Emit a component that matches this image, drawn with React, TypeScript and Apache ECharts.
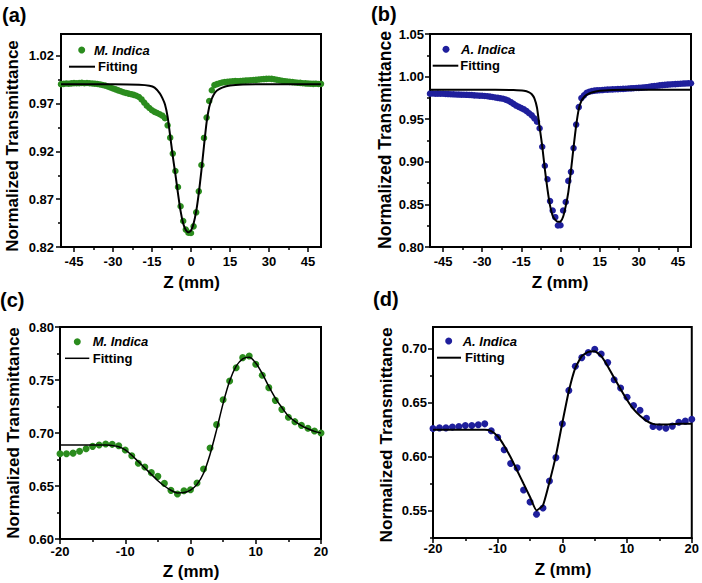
import React, { useEffect, useRef } from "react";
import * as echarts from "echarts";

// ---------- open-aperture scan positions (mm) ----------
const zOpen = [
  -50, -49, -48, -47, -46, -45, -44, -43, -42, -41, -40, -39, -38, -37, -36, -35, -34, -33, -32, -31,
  -30, -29, -28, -27, -26, -25, -24, -23, -22, -21, -20, -19, -18, -17, -16, -15, -14, -13, -12, -11,
  -10, -9, -8, -7, -6, -5, -4, -3, -2, -1, 0, 1, 2, 3, 4, 5, 6, 7, 8, 9,
  10, 11, 12, 13, 14, 15, 16, 17, 18, 19, 20, 21, 22, 23, 24, 25, 26, 27, 28, 29,
  30, 31, 32, 33, 34, 35, 36, 37, 38, 39, 40, 41, 42, 43, 44, 45, 46, 47, 48, 49, 50,
];

// (a) M. Indica open aperture
const mIndicaOpen = [
  0.9905, 0.9908, 0.9912, 0.991, 0.9913, 0.9916, 0.9914, 0.9916, 0.9918, 0.9915, 0.9917, 0.9915, 0.9912, 0.991, 0.9906, 0.9902, 0.9896, 0.989, 0.988, 0.987,
  0.986, 0.985, 0.984, 0.983, 0.982, 0.9813, 0.9806, 0.98, 0.9793, 0.9783, 0.977, 0.9745, 0.9712, 0.968, 0.9655, 0.9632, 0.9615, 0.9603, 0.959, 0.9575,
  0.9548, 0.9474, 0.9345, 0.9178, 0.8996, 0.8828, 0.8626, 0.8472, 0.8382, 0.835, 0.8347, 0.8416, 0.8563, 0.8783, 0.9059, 0.9342, 0.9555, 0.9729, 0.9841, 0.9895,
  0.9905, 0.9915, 0.9922, 0.9926, 0.993, 0.9932, 0.9935, 0.9937, 0.9936, 0.9938, 0.994, 0.9942, 0.9944, 0.9946, 0.9948, 0.995, 0.9953, 0.9956, 0.9958, 0.996,
  0.9962, 0.996, 0.9956, 0.9951, 0.9946, 0.9941, 0.9936, 0.9932, 0.9929, 0.9926, 0.9923, 0.992, 0.9918, 0.9915, 0.9913, 0.9911, 0.991, 0.9908, 0.991, 0.9906, 0.9908,
];
const fitAZ = [-50, -30, -20, -16, -14, -12, -11, -10, -9, -8, -7, -6, -5, -4, -3, -2, -1, 0, 1, 2, 3, 4, 5, 6, 7, 8, 9, 10, 12, 15, 20, 30, 50];
const fitAT = [
  0.9904, 0.9903, 0.9898, 0.9888, 0.9868, 0.9808, 0.9758, 0.9692, 0.9565, 0.9362, 0.9148, 0.896, 0.876, 0.8575, 0.8445, 0.8378, 0.8355,
  0.8372, 0.8446, 0.8575, 0.8765, 0.9, 0.926, 0.9505, 0.9665, 0.9752, 0.9808, 0.9838, 0.9868, 0.989, 0.99, 0.9904, 0.9904,
];

// (b) A. Indica open aperture
const aIndicaOpen = [
  0.98, 0.9801, 0.9799, 0.98, 0.9798, 0.9798, 0.9796, 0.9795, 0.9793, 0.9792, 0.979, 0.9789, 0.9788, 0.9787, 0.9786, 0.9785, 0.9783, 0.978, 0.9778, 0.9776,
  0.9775, 0.9772, 0.977, 0.9765, 0.976, 0.9755, 0.975, 0.9745, 0.974, 0.973, 0.9718, 0.97, 0.968, 0.966, 0.9645, 0.963, 0.9615, 0.9595, 0.957, 0.9545,
  0.951, 0.947, 0.9394, 0.9177, 0.8953, 0.8795, 0.8539, 0.8429, 0.835, 0.8252, 0.8255, 0.8429, 0.8528, 0.8776, 0.8882, 0.9161, 0.9437, 0.9642, 0.9748, 0.978,
  0.9811, 0.9822, 0.983, 0.9835, 0.9838, 0.984, 0.9842, 0.9845, 0.9847, 0.9848, 0.985, 0.9852, 0.9853, 0.9855, 0.9856, 0.9858, 0.986, 0.9862, 0.9864, 0.9866,
  0.9868, 0.987, 0.9873, 0.9876, 0.988, 0.9885, 0.9889, 0.9893, 0.9897, 0.99, 0.9903, 0.9906, 0.9908, 0.991, 0.9912, 0.9914, 0.9916, 0.9918, 0.992, 0.9921, 0.9922,
];
const fitBZ = [-50, -25, -18, -14, -12, -11, -10, -9, -8, -7, -6, -5, -4, -3, -2, -1, 0, 1, 2, 3, 4, 5, 6, 7, 8, 9, 10, 12, 15, 20, 25, 50];
const fitBT = [
  0.9846, 0.9846, 0.9842, 0.9833, 0.9815, 0.9793, 0.9745, 0.9635, 0.9405, 0.9185, 0.8915, 0.868, 0.8485, 0.8365, 0.8318, 0.8295,
  0.8298, 0.8355, 0.848, 0.8645, 0.8895, 0.917, 0.9425, 0.9618, 0.9715, 0.9758, 0.9785, 0.9813, 0.9833, 0.9842, 0.9846, 0.9846,
];

// ---------- closed-aperture scan positions (mm) ----------
const zClosed = [
  -20, -19, -18, -17, -16, -15, -14, -13, -12, -11, -10, -9, -8, -7, -6, -5, -4, -3, -2, -1, 0,
  1, 2, 3, 4, 5, 6, 7, 8, 9, 10, 11, 12, 13, 14, 15, 16, 17, 18, 19, 20,
];

// (c) M. Indica closed aperture
const mIndicaClosed = [
  0.6805, 0.6805, 0.681, 0.6827, 0.6852, 0.6874, 0.6887, 0.6896, 0.6893, 0.688, 0.684, 0.6786, 0.6714, 0.668, 0.6626, 0.6591, 0.6525, 0.6459, 0.6425, 0.6456, 0.6465,
  0.6528, 0.666, 0.6858, 0.7079, 0.7314, 0.749, 0.7616, 0.7711, 0.7726, 0.7648, 0.7544, 0.7428, 0.7308, 0.7223, 0.7148, 0.7107, 0.7072, 0.7044, 0.7019, 0.7,
];
const fitC = [
  0.6887, 0.6887, 0.6887, 0.6887, 0.6887, 0.6887, 0.6887, 0.6886, 0.6882, 0.687, 0.684, 0.679, 0.673, 0.667, 0.661, 0.655, 0.65, 0.646, 0.6435, 0.6438, 0.6462,
  0.6515, 0.662, 0.68, 0.703, 0.728, 0.749, 0.763, 0.77, 0.7715, 0.766, 0.756, 0.744, 0.733, 0.724, 0.716, 0.711, 0.707, 0.704, 0.7015, 0.7,
];

// (d) A. Indica closed aperture
const aIndicaClosed = [
  0.6262, 0.6268, 0.6268, 0.6275, 0.6281, 0.629, 0.629, 0.6296, 0.6305, 0.6241, 0.618, 0.6066, 0.5938, 0.5898, 0.5693, 0.5583, 0.547, 0.5528, 0.5776, 0.5993, 0.6305,
  0.6614, 0.6838, 0.6917, 0.6963, 0.6994, 0.6951, 0.6871, 0.6712, 0.6636, 0.655, 0.6474, 0.6431, 0.6357, 0.6281, 0.6275, 0.6265, 0.6284, 0.632, 0.633, 0.6348,
];
const fitD = [
  0.625, 0.625, 0.625, 0.625, 0.625, 0.625, 0.625, 0.625, 0.625, 0.6238, 0.619, 0.6103, 0.5996, 0.5874, 0.5751, 0.5629, 0.5505, 0.5552, 0.5766, 0.6011, 0.6317,
  0.6608, 0.6822, 0.693, 0.697, 0.6976, 0.693, 0.6838, 0.6731, 0.6624, 0.6526, 0.644, 0.6379, 0.6333, 0.6305, 0.6299, 0.6299, 0.6302, 0.6305, 0.6305, 0.6305,
];

// ---------- tick values ----------
const xTicksOpen = [-45, -30, -15, 0, 15, 30, 45];
const xMinorOpen = [-37.5, -22.5, -7.5, 7.5, 22.5, 37.5];
const xTicksClosed = [-20, -10, 0, 10, 20];
const xMinorClosed = [-15, -5, 5, 15];
const yTicksA = [0.82, 0.87, 0.92, 0.97, 1.02];
const yMinorA = [0.845, 0.895, 0.945, 0.995];
const yTicksB = [0.8, 0.85, 0.9, 0.95, 1.0, 1.05];
const yMinorB = [0.825, 0.875, 0.925, 0.975, 1.025];
const yTicksC = [0.6, 0.65, 0.7, 0.75, 0.8];
const yMinorC = [0.625, 0.675, 0.725, 0.775];
const yTicksD = [0.55, 0.6, 0.65, 0.7];
const yMinorD = [0.525, 0.575, 0.625, 0.675];

const GREEN = "#2b8c1e";
const BLUE = "#1f1f9c";
const FONT = "'Liberation Sans', Arial, Helvetica, sans-serif";

const pairs = (xs: number[], ys: number[]) => ys.map((v, i) => [xs[i], v]);

function axis(dim: "x" | "y", gridIndex: number, min: number, max: number, ticks: number[], minor: boolean, labelMargin: number) {
  const base: any = {
    type: "value",
    gridIndex,
    min,
    max,
    position: dim === "x" ? "bottom" : "left",
    splitLine: { show: false },
    minorTick: { show: false },
    axisLine: { show: !minor, onZero: false, lineStyle: { color: "#000", width: 2 } },
    axisTick: {
      show: true,
      inside: false,
      length: minor ? 3 : 5,
      customValues: ticks,
      lineStyle: { color: "#000", width: 1.5 },
    },
    axisLabel: minor
      ? { show: false }
      : {
          show: true,
          customValues: ticks,
          margin: labelMargin,
          color: "#000",
          fontSize: 13,
          fontWeight: "bold",
          fontFamily: FONT,
          formatter: (v: number) => (dim === "y" ? Number(v).toFixed(2) : String(Math.round(v))),
        },
  };
  return base;
}

function legend(dotX: number, dotY: number, label: string, color: string, labelX: number, lineX1: number, lineX2: number, lineY: number, fitX: number, lw: number) {
  return [
    { type: "circle", shape: { cx: dotX, cy: dotY, r: 3.5 }, style: { fill: color } },
    {
      type: "text",
      x: labelX,
      y: dotY,
      style: { text: label, fill: "#000", font: `italic bold 13px ${FONT}`, verticalAlign: "middle", align: "left" },
    },
    { type: "line", shape: { x1: lineX1, y1: lineY, x2: lineX2, y2: lineY }, style: { stroke: "#000", lineWidth: lw } },
    {
      type: "text",
      x: fitX,
      y: lineY,
      style: { text: "Fitting", fill: "#000", font: `bold 13px ${FONT}`, verticalAlign: "middle", align: "left" },
    },
  ];
}

function text(x: number, y: number, t: string, size: number, rotate = false, align = "center") {
  return {
    type: "text",
    x,
    y,
    rotation: rotate ? Math.PI / 2 : 0,
    style: { text: t, fill: "#000", font: `bold ${size}px ${FONT}`, align, verticalAlign: "middle" },
  };
}

export default function App() {
  const ref = useRef<HTMLDivElement>(null);
  useEffect(() => {
    if (!ref.current) return;
    const chart = echarts.init(ref.current, undefined, { renderer: "svg" });
    const gridStyle = { show: true, borderColor: "#000", borderWidth: 2, backgroundColor: "transparent", containLabel: false };
    const option: any = {
      animation: false,
      backgroundColor: "#fff",
      grid: [
        { ...gridStyle, left: 61, top: 34, width: 260, height: 213 },
        { ...gridStyle, left: 430, top: 34, width: 261, height: 213 },
        { ...gridStyle, left: 60, top: 327, width: 261, height: 212 },
        { ...gridStyle, left: 433, top: 327, width: 261, height: 211 },
      ],
      xAxis: [
        axis("x", 0, -50, 50, xTicksOpen, false, 8),
        axis("x", 0, -50, 50, xMinorOpen, true, 8),
        axis("x", 1, -50, 50, xTicksOpen, false, 8),
        axis("x", 1, -50, 50, xMinorOpen, true, 8),
        axis("x", 2, -20, 20, xTicksClosed, false, 6),
        axis("x", 2, -20, 20, xMinorClosed, true, 6),
        axis("x", 3, -20, 20, xTicksClosed, false, 4),
        axis("x", 3, -20, 20, xMinorClosed, true, 4),
      ],
      yAxis: [
        axis("y", 0, 0.82, 1.043, yTicksA, false, 7),
        axis("y", 0, 0.82, 1.043, yMinorA, true, 7),
        axis("y", 1, 0.8, 1.05, yTicksB, false, 6),
        axis("y", 1, 0.8, 1.05, yMinorB, true, 6),
        axis("y", 2, 0.6, 0.8, yTicksC, false, 6),
        axis("y", 2, 0.6, 0.8, yMinorC, true, 6),
        axis("y", 3, 0.525, 0.72, yTicksD, false, 6),
        axis("y", 3, 0.525, 0.72, yMinorD, true, 6),
      ],
      series: [
        { name: "M. Indica", type: "scatter", xAxisIndex: 0, yAxisIndex: 0, data: pairs(zOpen, mIndicaOpen), symbolSize: 6.5, itemStyle: { color: GREEN, opacity: 1 } },
        { name: "Fitting", type: "line", xAxisIndex: 0, yAxisIndex: 0, data: pairs(fitAZ, fitAT), showSymbol: false, symbol: "none", smooth: 0.2, lineStyle: { color: "#000", width: 2 }, z: 3 },
        { name: "A. Indica", type: "scatter", xAxisIndex: 2, yAxisIndex: 2, data: pairs(zOpen, aIndicaOpen), symbolSize: 6.5, itemStyle: { color: BLUE, opacity: 1 } },
        { name: "Fitting", type: "line", xAxisIndex: 2, yAxisIndex: 2, data: pairs(fitBZ, fitBT), showSymbol: false, symbol: "none", smooth: 0.2, lineStyle: { color: "#000", width: 2 }, z: 3 },
        { name: "M. Indica", type: "scatter", xAxisIndex: 4, yAxisIndex: 4, data: pairs(zClosed, mIndicaClosed), symbolSize: 7, itemStyle: { color: GREEN, opacity: 1 } },
        { name: "Fitting", type: "line", xAxisIndex: 4, yAxisIndex: 4, data: pairs(zClosed, fitC), showSymbol: false, symbol: "none", smooth: 0.3, lineStyle: { color: "#000", width: 1.5 }, z: 3 },
        { name: "A. Indica", type: "scatter", xAxisIndex: 6, yAxisIndex: 6, data: pairs(zClosed, aIndicaClosed), symbolSize: 7, itemStyle: { color: BLUE, opacity: 1 } },
        { name: "Fitting", type: "line", xAxisIndex: 6, yAxisIndex: 6, data: pairs(zClosed, fitD), showSymbol: false, symbol: "none", smooth: 0.15, lineStyle: { color: "#000", width: 2 }, z: 3 },
      ],
      graphic: [
        text(2, 15, "(a)", 20, false, "left"),
        text(371, 14, "(b)", 20, false, "left"),
        text(0, 300, "(c)", 20, false, "left"),
        text(373, 299, "(d)", 20, false, "left"),
        text(12, 146, "Normalized Transmittance", 17, true),
        text(385, 140, "Normalized Transmittance", 17.5, true),
        text(13, 433, "Normalized Transmittance", 17, true),
        text(386, 435, "Normalized Transmittance", 17.3, true),
        text(191.5, 282, "Z (mm)", 17),
        text(560, 282, "Z (mm)", 17),
        text(191, 571, "Z (mm)", 17),
        text(563, 569, "Z (mm)", 17),
        ...legend(81.7, 50, "M. Indica", GREEN, 94, 69, 95, 66.7, 98, 2),
        ...legend(446, 49.3, "A. Indica", BLUE, 461, 432.7, 458.3, 65.7, 460.3, 2),
        ...legend(77.3, 341.7, "M. Indica", GREEN, 92.7, 65, 89.3, 358.3, 92.7, 1.5),
        ...legend(448.7, 341, "A. Indica", BLUE, 462.7, 437, 461, 357.7, 465, 2),
      ],
    };
    chart.setOption(option);
    return () => chart.dispose();
  }, []);
  return <div ref={ref} style={{ position: "absolute", left: 0, top: 0, width: 702, height: 583 }} />;
}
